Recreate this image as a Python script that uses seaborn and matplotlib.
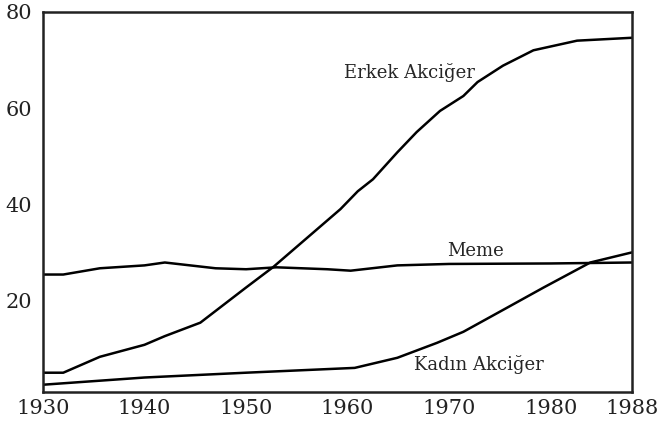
import pandas as pd
import matplotlib.pyplot as plt
import seaborn as sns

# values
erkek_years = [1930, 1932, 1935.6, 1940, 1942, 1945.5, 1950, 1952.7, 1956, 1959.3, 1961,
               1962.5, 1964.9, 1966.8, 1969.1, 1971.4, 1972.8, 1975.3, 1978.3, 1982.6, 1988]
erkek_vals = [5.0, 5.0, 8.3, 10.8, 12.6, 15.4, 22.7, 27.0, 33.0, 39.0, 42.7,
              45.2, 50.8, 55.0, 59.4, 62.5, 65.4, 68.8, 72.0, 74.0, 74.6]

meme_years = [1930, 1932, 1935.6, 1940, 1942, 1947, 1950, 1953, 1958, 1960.3, 1964.9,
              1970, 1980, 1988]
meme_vals = [25.4, 25.4, 26.7, 27.3, 27.9, 26.7, 26.5, 26.9, 26.5, 26.2, 27.3,
             27.6, 27.7, 27.9]

kadin_years = [1930, 1940, 1950, 1960.7, 1964.9, 1968.8, 1971.4, 1975.7, 1979.3,
               1983.9, 1988]
kadin_vals = [2.5, 4.0, 5.0, 6.0, 8.1, 11.2, 13.5, 18.5, 22.7, 27.9, 30.0]

xticks = [1930, 1940, 1950, 1960, 1970, 1980, 1988]
yticks = [20, 40, 60, 80]

sns.set_style("white")
plt.rcParams['font.family'] = ['DejaVu Serif', 'DejaVu Sans']

fig, ax = plt.subplots(figsize=(6.61, 4.21), dpi=100)
fig.subplots_adjust(left=0.065, right=0.956, top=0.972, bottom=0.069)

sns.lineplot(x=erkek_years, y=erkek_vals, color='black', lw=1.8, ax=ax)
sns.lineplot(x=meme_years, y=meme_vals, color='black', lw=1.8, ax=ax)
sns.lineplot(x=kadin_years, y=kadin_vals, color='black', lw=1.8, ax=ax)

ax.text(1959.6, 67.3, 'Erkek Akciğer', fontsize=13, ha='left', va='center')
ax.text(1969.8, 30.2, 'Meme', fontsize=13, ha='left', va='center')
ax.text(1966.5, 6.7, 'Kadın Akciğer', fontsize=13, ha='left', va='center')

ax.set_xlim(1930, 1988)
ax.set_ylim(1, 80)
ax.set_xticks(xticks)
ax.set_yticks(yticks)
ax.tick_params(axis='both', direction='in', colors='#222222', labelsize=15)
ax.tick_params(axis='y', length=7, width=1.5, pad=8)
ax.tick_params(axis='x', length=5, width=1.5, pad=5)
for s in ax.spines.values():
    s.set_visible(True)
    s.set_color('#222222')
    s.set_linewidth(1.8)

fig.savefig('out.png', dpi=100, facecolor='white')
